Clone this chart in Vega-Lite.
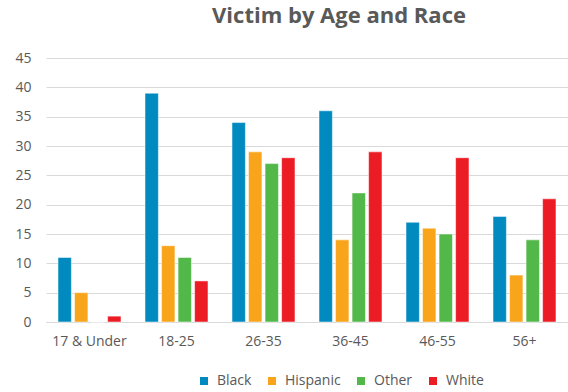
{
  "$schema": "https://vega.github.io/schema/vega-lite/v6.json",
  "autosize": "none",
  "width": 522,
  "height": 264,
  "padding": {"left": 46, "top": 58, "right": 0, "bottom": 70},
  "background": "white",
  "title": {
    "text": "Victim by Age and Race",
    "font": "Open Sans",
    "fontSize": 22,
    "fontWeight": "bold",
    "color": "#595959",
    "anchor": "middle",
    "dx": 32,
    "offset": 23
  },
  "data": {
    "values": [
      {"age": "17 & Under", "race": "Black", "count": 11},
      {"age": "17 & Under", "race": "Hispanic", "count": 5},
      {"age": "17 & Under", "race": "Other", "count": 0},
      {"age": "17 & Under", "race": "White", "count": 1},
      {"age": "18-25", "race": "Black", "count": 39},
      {"age": "18-25", "race": "Hispanic", "count": 13},
      {"age": "18-25", "race": "Other", "count": 11},
      {"age": "18-25", "race": "White", "count": 7},
      {"age": "26-35", "race": "Black", "count": 34},
      {"age": "26-35", "race": "Hispanic", "count": 29},
      {"age": "26-35", "race": "Other", "count": 27},
      {"age": "26-35", "race": "White", "count": 28},
      {"age": "36-45", "race": "Black", "count": 36},
      {"age": "36-45", "race": "Hispanic", "count": 14},
      {"age": "36-45", "race": "Other", "count": 22},
      {"age": "36-45", "race": "White", "count": 29},
      {"age": "46-55", "race": "Black", "count": 17},
      {"age": "46-55", "race": "Hispanic", "count": 16},
      {"age": "46-55", "race": "Other", "count": 15},
      {"age": "46-55", "race": "White", "count": 28},
      {"age": "56+", "race": "Black", "count": 18},
      {"age": "56+", "race": "Hispanic", "count": 8},
      {"age": "56+", "race": "Other", "count": 14},
      {"age": "56+", "race": "White", "count": 21}
    ]
  },
  "mark": {"type": "bar", "stroke": "white", "strokeOpacity": 0.5, "strokeWidth": 1},
  "encoding": {
    "x": {
      "field": "age",
      "type": "nominal",
      "sort": null,
      "scale": {"paddingInner": 0.276, "paddingOuter": 0.138},
      "axis": {
        "title": null,
        "labelAngle": 0,
        "labelFont": "Open Sans",
        "labelFontSize": 14,
        "labelColor": "#595959",
        "labelPadding": 12,
        "ticks": false,
        "domain": true,
        "domainColor": "#d9d9d9",
        "domainWidth": 1,
        "grid": false
      }
    },
    "xOffset": {
      "field": "race",
      "type": "nominal",
      "scale": {"paddingInner": 0.19, "paddingOuter": 0}
    },
    "y": {
      "field": "count",
      "type": "quantitative",
      "scale": {"domain": [0, 45], "nice": false},
      "axis": {
        "title": null,
        "values": [0, 5, 10, 15, 20, 25, 30, 35, 40, 45],
        "labelFont": "Open Sans",
        "labelFontSize": 14,
        "labelColor": "#595959",
        "labelPadding": 15,
        "ticks": false,
        "domain": false,
        "grid": true,
        "gridColor": "#d9d9d9",
        "gridWidth": 1
      }
    },
    "color": {
      "field": "race",
      "type": "nominal",
      "scale": {
        "domain": ["Black", "Hispanic", "Other", "White"],
        "range": ["#008ABF", "#F9A51B", "#52B84A", "#EC1C24"]
      },
      "legend": {
        "title": null,
        "orient": "none",
        "direction": "horizontal",
        "legendX": 151,
        "legendY": 316,
        "symbolType": "square",
        "symbolSize": 64,
        "symbolStrokeWidth": 0,
        "labelFont": "Open Sans",
        "labelFontSize": 14,
        "labelColor": "#595959",
        "labelOffset": 6,
        "columnPadding": 13
      }
    }
  },
  "config": {
    "view": {"stroke": null}
  }
}
